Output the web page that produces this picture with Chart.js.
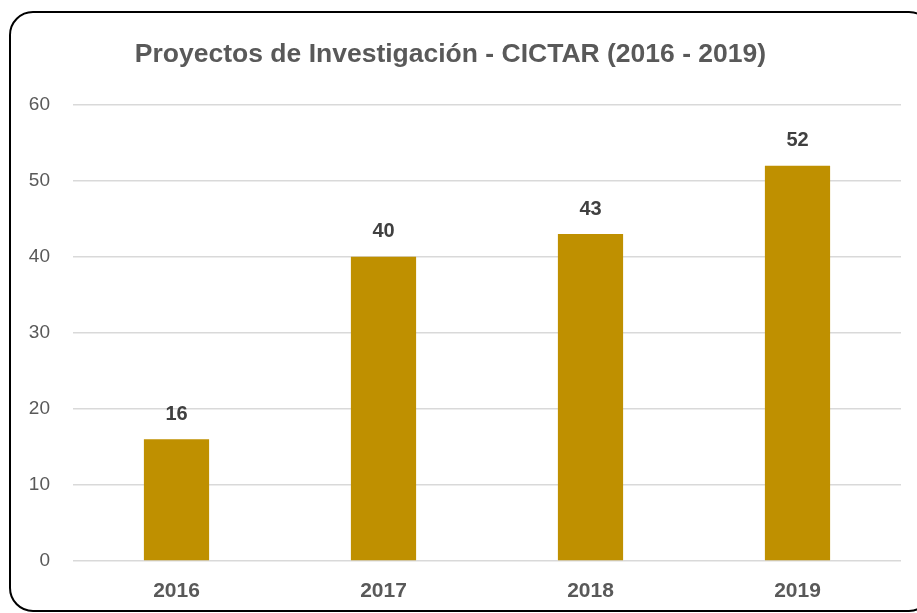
<!DOCTYPE html>
<html>
<head>
<meta charset="utf-8">
<script src="https://cdn.jsdelivr.net/npm/chart.js@4.4.1/dist/chart.umd.min.js"></script>
<style>
  html, body { margin: 0; padding: 0; background: #fff; overflow: hidden; }
  #wrap { position: relative; width: 917px; height: 613px; }
  #frame {
    position: absolute; left: 9px; top: 11px; width: 920px; height: 597px;
    border: 2px solid #000; border-radius: 24px; pointer-events: none;
  }
  canvas { position: absolute; left: 0; top: 0; }
</style>
</head>
<body>
<div id="wrap">
  <canvas id="chart" width="917" height="613"></canvas>
  <div id="frame"></div>
</div>
<script>
const years = ["2016", "2017", "2018", "2019"];
const proyectos = [16, 40, 43, 52];
const yTicks = [0, 10, 20, 30, 40, 50, 60];

const FONT = "'Liberation Sans', Arial, sans-serif";

// numbers above the bars
const barLabels = {
  id: "barLabels",
  afterDatasetsDraw(chart) {
    const ctx = chart.ctx;
    const meta = chart.getDatasetMeta(0);
    ctx.save();
    ctx.font = "bold 20px " + FONT;
    ctx.fillStyle = "#404040";
    ctx.textAlign = "center";
    ctx.textBaseline = "middle";
    meta.data.forEach((bar, i) => {
      ctx.fillText(String(proyectos[i]), bar.x, bar.y - 25);
    });
    ctx.restore();
  },
};

new Chart(document.getElementById("chart"), {
  type: "bar",
  data: {
    labels: years,
    datasets: [
      {
        label: "Proyectos",
        data: proyectos,
        backgroundColor: "#bf9000",
        categoryPercentage: 1,
        barPercentage: 0.315,
      },
    ],
  },
  options: {
    responsive: false,
    animation: false,
    layout: { padding: { left: 0, right: 16, top: 0, bottom: 0 } },
    plugins: {
      legend: { display: false },
      tooltip: { enabled: false },
      title: {
        display: true,
        text: "Proyectos de Investigación - CICTAR (2016 - 2019)",
        color: "#595959",
        font: { family: FONT, size: 26.5, weight: "bold" },
        padding: { top: 39, bottom: 34 },
      },
    },
    scales: {
      x: {
        afterFit(scale) {
          scale.height = 52;
        },
        grid: { display: false, drawTicks: false },
        border: { display: false },
        ticks: {
          color: "#595959",
          font: { family: FONT, size: 21, weight: "bold" },
          padding: 18,
        },
      },
      y: {
        min: 0,
        max: 60,
        afterBuildTicks(scale) {
          scale.ticks = yTicks.map((v) => ({ value: v }));
        },
        afterFit(scale) {
          scale.width = 73;
        },
        grid: { color: "#d9d9d9", lineWidth: 1.5, drawTicks: false },
        border: { display: false },
        ticks: {
          color: "#595959",
          font: { family: FONT, size: 19 },
          padding: 23,
        },
      },
    },
  },
  plugins: [barLabels],
});
</script>
</body>
</html>
